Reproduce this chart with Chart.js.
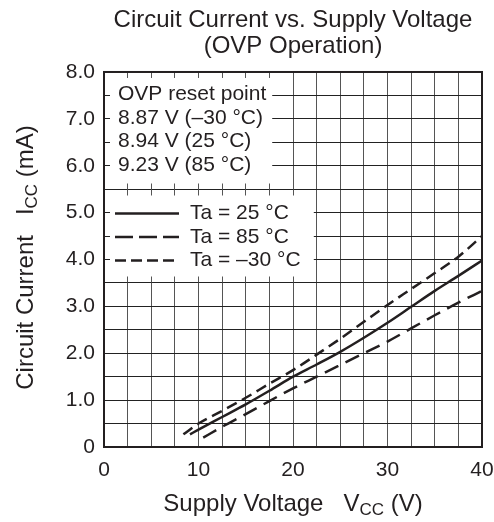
<!DOCTYPE html>
<html>
<head>
<meta charset="utf-8">
<script src="https://cdn.jsdelivr.net/npm/chart.js@4.4.1/dist/chart.umd.min.js"></script>
<style>
  html, body { margin: 0; padding: 0; background: #fff; }
  canvas { display: block; }
</style>
</head>
<body>
<canvas id="chart" width="494" height="522"></canvas>
<script>
// values
const volt25 = [9.1, 10, 12.5, 15, 17.5, 20, 22.5, 25, 27.5, 30, 32.5, 35, 37.5, 40];
const curr25 = [0.27, 0.37, 0.64, 0.91, 1.2, 1.5, 1.76, 2.03, 2.33, 2.65, 2.99, 3.33, 3.65, 3.98];
const volt85 = [10.5, 12.5, 15, 17.5, 20, 22.5, 25, 27.5, 30, 32.5, 35, 37.5, 40];
const curr85 = [0.2, 0.43, 0.7, 0.98, 1.25, 1.5, 1.75, 2.0, 2.25, 2.53, 2.81, 3.08, 3.33];
const voltM30 = [8.4, 10, 12.5, 15, 17.5, 20, 22.5, 25, 27.5, 30, 32.5, 35, 37.5, 40];
const currM30 = [0.27, 0.5, 0.77, 1.05, 1.35, 1.64, 1.97, 2.31, 2.67, 3.03, 3.37, 3.71, 4.06, 4.5];

const seriesNames = ['Ta = 25 °C', 'Ta = 85 °C', 'Ta = –30 °C'];
const resetLines = ['OVP reset point', '8.87 V (–30 °C)', '8.94 V (25 °C)', '9.23 V (85 °C)'];
const xLabels = [0, 10, 20, 30, 40];
const yLabels = ['0', '1.0', '2.0', '3.0', '4.0', '5.0', '6.0', '7.0', '8.0'];

const FONT = "'Liberation Sans', Arial, Helvetica, sans-serif";
const INK = '#231f20';
const X_GRID = '#555';
const Y_GRID = '#222';

function toPoints(xs, ys) {
    return xs.map((v, i) => ({x: v, y: ys[i]}));
}

function align(p) {
    return Math.round(p - 0.5) + 0.5;
}

function seg(ctx, x0, y0, x1, y1, color) {
    ctx.strokeStyle = color;
    ctx.beginPath();
    ctx.moveTo(x0, y0);
    ctx.lineTo(x1, y1);
    ctx.stroke();
}

// white inset boxes (reset point note + legend) with small edge ticks
const insetPlugin = {
    id: 'inset',
    beforeDatasetsDraw(chart) {
        const {ctx, chartArea: a, scales: {x, y}} = chart;
        const t = 6;
        const upRight = x.getPixelForValue(17.8);
        const lgRight = x.getPixelForValue(22.2);
        const yMid = align(y.getPixelForValue(5.5));
        const yLow = align(y.getPixelForValue(3.5));

        ctx.save();
        ctx.fillStyle = '#fff';
        ctx.fillRect(a.left + 1, a.top + 1, upRight - a.left - 1, yMid - a.top - 1.5);
        ctx.fillRect(a.left + 1, yMid + 0.5, lgRight - a.left - 1, yLow - yMid - 1);

        ctx.lineWidth = 1;
        seg(ctx, a.left, yMid, lgRight, yMid, Y_GRID);
        seg(ctx, a.left, yLow, lgRight, yLow, Y_GRID);

        for (let v = 2.5; v < 22; v += 2.5) {
            const px = align(x.getPixelForValue(v));
            if (v < 18) {
                seg(ctx, px, a.top, px, a.top + t, X_GRID);
                seg(ctx, px, yMid - t, px, yMid, X_GRID);
            }
            seg(ctx, px, yMid, px, yMid + t, X_GRID);
            seg(ctx, px, yLow - t, px, yLow, X_GRID);
        }
        [7.5, 7, 6.5, 6, 5, 4.5, 4].forEach(v => {
            const py = align(y.getPixelForValue(v));
            seg(ctx, a.left, py, a.left + t, py, Y_GRID);
        });

        ctx.fillStyle = INK;
        ctx.font = '21px ' + FONT;
        ctx.textBaseline = 'middle';
        ctx.textAlign = 'left';
        resetLines.forEach((s, i) => {
            ctx.fillText(s, a.left + 14, y.getPixelForValue(7.5 - i * 0.5) - 1);
        });

        chart.data.datasets.forEach((ds, i) => {
            const py = y.getPixelForValue(5 - i * 0.5) + 1;
            ctx.strokeStyle = ds.borderColor;
            ctx.lineWidth = ds.borderWidth;
            ctx.setLineDash(ds.legendDash);
            ctx.beginPath();
            ctx.moveTo(a.left + 11, py);
            ctx.lineTo(a.left + 75, py);
            ctx.stroke();
            ctx.setLineDash([]);
            ctx.fillText(ds.label, a.left + 86, py);
        });
        ctx.restore();
    },
    afterDatasetsDraw(chart) {
        const {ctx, chartArea: a} = chart;
        ctx.save();
        ctx.strokeStyle = INK;
        ctx.lineWidth = 2;
        ctx.strokeRect(a.left, a.top, a.right - a.left, a.bottom - a.top);
        ctx.restore();
    },
    afterDraw(chart) {
        const {ctx, chartArea: a} = chart;
        const big = '24px ' + FONT;
        const small = '17px ' + FONT;

        function drawParts(parts, cx, base) {
            let w = 0;
            parts.forEach(p => { ctx.font = p[1]; w += ctx.measureText(p[0]).width; });
            let px = cx - w / 2;
            parts.forEach(p => {
                ctx.font = p[1];
                ctx.fillText(p[0], px, base + p[2]);
                px += ctx.measureText(p[0]).width;
            });
        }

        ctx.save();
        ctx.fillStyle = INK;
        ctx.textBaseline = 'alphabetic';
        ctx.textAlign = 'left';
        drawParts([['Supply Voltage   V', big, 0], ['CC', small, 4], [' (V)', big, 0]],
            (a.left + a.right) / 2, 511);

        ctx.translate(33, (a.top + a.bottom) / 2 - 2);
        ctx.rotate(-Math.PI / 2);
        drawParts([['Circuit Current   I', big, 0], ['CC', small, 4], [' (mA)', big, 0]], 0, 0);
        ctx.restore();
    }
};

function lineSet(label, xs, ys, dash, legendDash) {
    return {
        label: label,
        data: toPoints(xs, ys),
        borderColor: INK,
        borderWidth: 2.5,
        borderDash: dash,
        legendDash: legendDash,
        pointRadius: 0,
        fill: false,
        cubicInterpolationMode: 'monotone'
    };
}

const ctx = document.getElementById('chart').getContext('2d');
const chart = new Chart(ctx, {
    type: 'line',
    data: {
        datasets: [
            lineSet(seriesNames[0], volt25, curr25, [], []),
            lineSet(seriesNames[1], volt85, curr85, [15, 8], [18, 6]),
            lineSet(seriesNames[2], voltM30, currM30, [11, 6], [11, 5])
        ]
    },
    options: {
        responsive: false,
        animation: false,
        devicePixelRatio: 1,
        layout: {padding: {left: 0, right: 0, top: 0, bottom: 0}},
        plugins: {
            legend: {display: false},
            tooltip: {enabled: false},
            title: {
                display: true,
                fullSize: false,
                text: ['Circuit Current vs. Supply Voltage', '(OVP Operation)'],
                color: INK,
                font: {family: FONT, size: 24, weight: 'normal', lineHeight: 1.083},
                padding: {top: 7, bottom: 13}
            }
        },
        scales: {
            x: {
                type: 'linear',
                min: 0,
                max: 40,
                afterFit: (scale) => { scale.height = 75; scale.paddingRight = 12; },
                border: {display: false},
                grid: {color: X_GRID, lineWidth: 1, drawTicks: false},
                ticks: {
                    stepSize: 2.5,
                    autoSkip: false,
                    maxRotation: 0,
                    padding: 11,
                    color: INK,
                    font: {family: FONT, size: 21},
                    callback: (v) => xLabels.includes(v) ? String(v) : ''
                }
            },
            y: {
                type: 'linear',
                min: 0,
                max: 8,
                afterFit: (scale) => { scale.width = 104; },
                border: {display: false},
                grid: {color: Y_GRID, lineWidth: 1, drawTicks: false},
                ticks: {
                    stepSize: 0.5,
                    autoSkip: false,
                    padding: 9,
                    color: INK,
                    font: {family: FONT, size: 21},
                    callback: (v) => Number.isInteger(v) ? yLabels[v] : ''
                }
            }
        }
    },
    plugins: [insetPlugin]
});
</script>
</body>
</html>
